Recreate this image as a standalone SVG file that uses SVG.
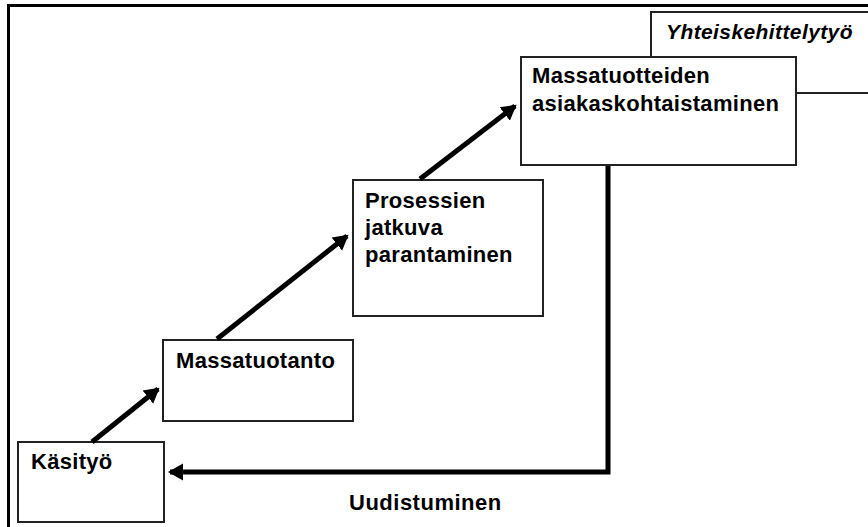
<svg xmlns="http://www.w3.org/2000/svg" width="868" height="527" viewBox="0 0 868 527">
<style>
.box{fill:#fff;stroke:#222;stroke-width:2}
.t{font-family:"Liberation Sans",Arial,sans-serif;font-weight:bold;font-size:22px;letter-spacing:0.3px;fill:#000}
.it{font-style:italic;font-size:21px;letter-spacing:0.4px}
.c{fill:none;stroke:#000;stroke-width:5}
</style>
<defs>
<marker id="ah" markerWidth="4" markerHeight="4" refX="2.6" refY="2" orient="auto" markerUnits="strokeWidth">
<path d="M0,0.3 L3,2 L0,3.7 Z" fill="#000"/>
</marker>
</defs>
<rect width="868" height="527" fill="#fff"/>
<path d="M8.5,527 V5.5 H868" fill="none" stroke="#000" stroke-width="3"/>
<g id="yhteiskehittelytyo">
<rect class="box" x="651" y="12" width="230" height="81"/>
<text class="t it" x="666" y="39">Yhteiskehittelytyö</text>
</g>
<g id="kasityo">
<rect class="box" x="18" y="442" width="146" height="80"/>
<text class="t" x="31" y="469">Käsityö</text>
</g>
<g id="massatuotanto">
<rect class="box" x="163" y="340" width="190" height="81"/>
<text class="t" x="176" y="368">Massatuotanto</text>
</g>
<g id="prosessien">
<rect class="box" x="353" y="180" width="190" height="136"/>
<text class="t" x="365" y="208">Prosessien</text>
<text class="t" x="365" y="235">jatkuva</text>
<text class="t" x="365" y="262">parantaminen</text>
</g>
<g id="massatuotteiden">
<rect class="box" x="521" y="57" width="275" height="108"/>
<text class="t" x="532" y="83">Massatuotteiden</text>
<text class="t" x="532" y="111">asiakaskohtaistaminen</text>
</g>
<g id="connectors">
<line class="c" x1="92" y1="442" x2="158" y2="389" marker-end="url(#ah)"/>
<line class="c" x1="217" y1="339" x2="347" y2="236" marker-end="url(#ah)"/>
<line class="c" x1="420" y1="179" x2="515" y2="106" marker-end="url(#ah)"/>
<path class="c" d="M608,166 V472 H170" marker-end="url(#ah)"/>
</g>
<text class="t" x="349" y="510" style="letter-spacing:0.5px">Uudistuminen</text>
</svg>
